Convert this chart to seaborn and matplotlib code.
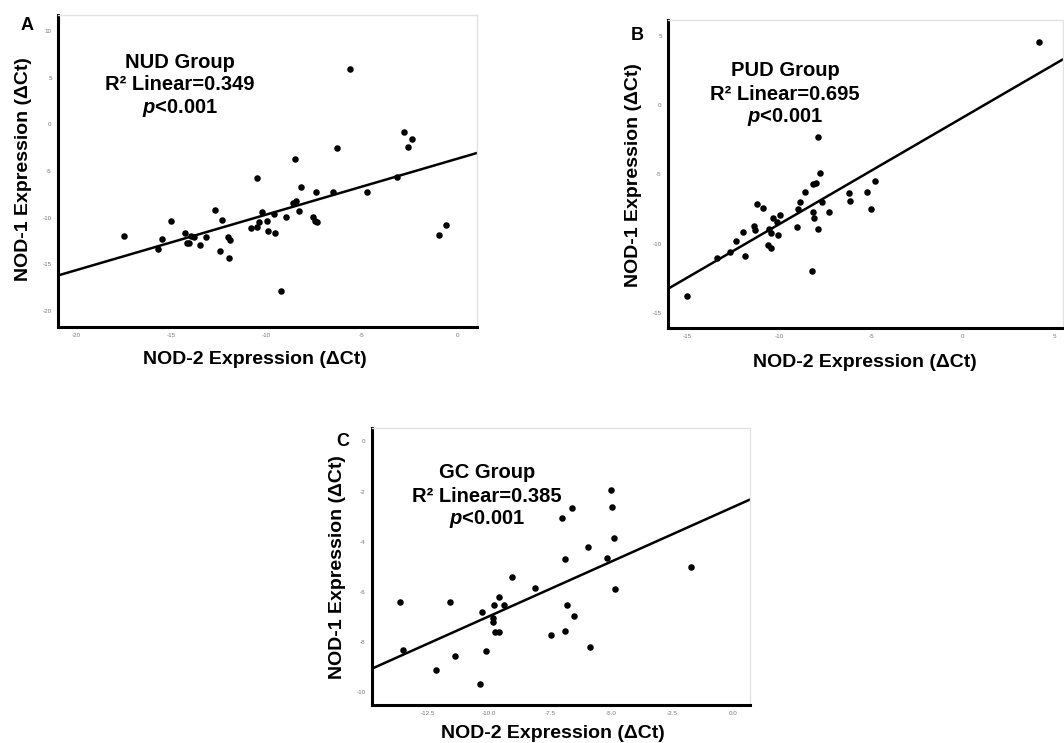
import matplotlib
matplotlib.use("Agg")
import matplotlib.pyplot as plt
import seaborn as sns

# NUD group (panel A)
nud_nod2 = [-17.5, -15.0, -15.5, -15.7, -14.3, -14.1, -14.2, -13.95, -13.8, -13.5,
            -13.2, -12.7, -12.35, -12.45, -12.05, -11.9, -12.0, -10.5, -10.8, -10.5,
            -10.25, -10.4, -10.0, -9.95, -9.6, -9.55, -9.25, -9.0, -8.6, -8.45,
            -8.5, -8.3, -8.2, -7.55, -7.45, -7.35, -7.4, -6.5, -6.3, -5.6,
            -4.75, -3.15, -2.8, -2.6, -2.35, -0.95, -0.6]
nud_nod1 = [-12.0, -10.4, -12.3, -13.3, -11.6, -12.7, -12.7, -12.0, -12.1, -12.9,
            -12.1, -9.2, -10.2, -13.6, -12.1, -12.4, -14.3, -5.8, -11.1, -11.0,
            -9.4, -10.5, -10.3, -11.4, -9.6, -11.6, -17.8, -9.9, -8.4, -8.2,
            -3.75, -9.3, -6.7, -9.9, -10.3, -10.5, -7.2, -7.2, -2.5, 5.9,
            -7.3, -5.6, -0.8, -2.4, -1.6, -11.8, -10.8]

# PUD group (panel B)
pud_nod2 = [-15.0, -13.4, -12.7, -12.35, -11.95, -11.85, -11.4, -11.3, -11.2, -10.9,
            -10.55, -10.45, -10.6, -10.45, -10.35, -10.15, -10.05, -9.95, -9.05, -9.0,
            -8.85, -8.6, -8.15, -8.0, -8.15, -8.1, -7.9, -7.8, -7.9, -7.65,
            -7.3, -6.2, -6.15, -5.25, -5.0, -4.8, -8.2, 4.15]
pud_nod1 = [-13.75, -11.0, -10.6, -9.8, -9.15, -10.9, -8.7, -9.0, -7.15, -7.4,
            -8.9, -9.2, -10.1, -10.3, -8.15, -8.4, -9.35, -7.95, -8.8, -7.5,
            -7.0, -6.3, -5.7, -5.6, -7.7, -8.15, -2.3, -4.9, -8.9, -7.0,
            -7.7, -6.35, -6.9, -6.3, -7.5, -5.45, -12.0, 4.55]

# GC group (panel C)
gc_nod2 = [-13.65, -13.5, -12.15, -11.6, -11.4, -10.35, -10.3, -10.1, -9.8, -9.85,
           -9.85, -9.75, -9.6, -9.6, -9.4, -9.05, -8.1, -7.45, -7.0, -6.9,
           -6.9, -6.8, -6.6, -6.5, -5.95, -5.85, -5.15, -5.0, -4.95, -4.9,
           -4.85, -1.75]
gc_nod1 = [-6.4, -8.3, -9.1, -6.4, -8.55, -9.65, -6.8, -8.35, -6.5, -7.05,
           -7.2, -7.6, -7.6, -6.2, -6.5, -5.4, -5.85, -7.7, -3.05, -4.7,
           -7.55, -6.5, -2.65, -6.95, -4.2, -8.2, -4.65, -1.95, -2.6, -3.85,
           -5.9, -5.0]

W, H = 1064, 743


def add_axes_px(fig, x0, y0, x1, y1):
    return fig.add_axes([x0 / W, 1 - y1 / H, (x1 - x0) / W, (y1 - y0) / H])


def to_axes(box, px, py):
    x0, y0, x1, y1 = box
    return (px - x0) / (x1 - x0), (y1 - py) / (y1 - y0)


def panel(fig, box, x, y, xlim, ylim, xticks, xlabels, yticks, ylabels,
          letter, letter_pos, ylab_pos, xlab_pos, title, r2, note_pos):
    ax = add_axes_px(fig, *box)
    ax.set_xlim(xlim)
    ax.set_ylim(ylim)
    # truncate=False -> line spans the whole x range, like the SPSS fit line
    sns.regplot(x=x, y=y, ax=ax, ci=None, truncate=False,
                scatter_kws=dict(s=22, color='black', alpha=1, linewidths=0),
                line_kws=dict(color='black', lw=1.8))
    ax.set_xlim(xlim)
    ax.set_ylim(ylim)
    ax.set_xticks(xticks)
    ax.set_xticklabels(xlabels)
    ax.set_yticks(yticks)
    ax.set_yticklabels(ylabels)
    ax.tick_params(axis='both', labelsize=4.5, labelcolor='#777777', length=3,
                   width=0.8, color='#444444', pad=1.5, direction='out')
    for side in ['left', 'bottom']:
        ax.spines[side].set_color('black')
        ax.spines[side].set_linewidth(2.2)
    for side in ['top', 'right']:
        ax.spines[side].set_color('#e2e2e2')
        ax.spines[side].set_linewidth(1.0)

    ax.set_xlabel('NOD-2 Expression (ΔCt)', fontsize=14, fontweight='bold', color='black')
    ax.set_ylabel('NOD-1 Expression (ΔCt)', fontsize=14, fontweight='bold', color='black')
    ax.xaxis.label.set_va('center')
    ax.yaxis.label.set_va('center')
    ax.xaxis.set_label_coords(*to_axes(box, *xlab_pos))
    ax.yaxis.set_label_coords(*to_axes(box, *ylab_pos))

    fig.text(letter_pos[0] / W, 1 - letter_pos[1] / H, letter, fontsize=13,
             fontweight='bold', ha='center', va='center', color='black')

    nx, ny = note_pos
    lines = [title, 'R² Linear=' + r2, '$\\mathit{p}$<0.001']
    for i, t in enumerate(lines):
        fig.text(nx / W, 1 - (ny + i * 23) / H, t, fontsize=14.5,
                 fontweight='bold', ha='center', va='center', color='black')
    return ax


def main():
    sns.set_style('white')
    plt.rcParams['font.family'] = ['Liberation Sans', 'DejaVu Sans']
    plt.rcParams['text.color'] = 'black'
    plt.rcParams['axes.labelcolor'] = 'black'
    plt.rcParams['mathtext.fontset'] = 'custom'
    plt.rcParams['mathtext.it'] = 'Liberation Sans:italic:bold'
    plt.rcParams['mathtext.rm'] = 'Liberation Sans:bold'

    fig = plt.figure(figsize=(W / 100, H / 100), dpi=100)

    panel(fig, (58, 15, 477, 327), nud_nod2, nud_nod1,
          (-20.96, 1.05), (-21.7, 11.7),
          [-20, -15, -10, -5, 0], ['-20', '-15', '-10', '-5', '0'],
          [10, 5, 0, -5, -10, -15, -20], ['10', '5', '0', '-5', '-10', '-15', '-20'],
          'A', (27, 25), (24, 169), (255, 360),
          'NUD Group', '0.349', (180, 62))

    panel(fig, (668, 20, 1063, 328), pud_nod2, pud_nod1,
          (-16.06, 5.45), (-16.08, 6.15),
          [-15, -10, -5, 0, 5], ['-15', '-10', '-5', '0', '5'],
          [5, 0, -5, -10, -15], ['5', '0', '-5', '-10', '-15'],
          'B', (637, 35), (633, 175), (865, 362),
          'PUD Group', '0.695', (785, 71))

    panel(fig, (372, 428, 750, 705), gc_nod2, gc_nod1,
          (-14.78, 0.68), (-10.5, 0.53),
          [-12.5, -10.0, -7.5, -5.0, -2.5, 0.0],
          ['-12.5', '-10.0', '-7.5', '-5.0', '-2.5', '0.0'],
          [0, -2, -4, -6, -8, -10], ['0', '-2', '-4', '-6', '-8', '-10'],
          'C', (343, 442), (338, 567), (553, 733),
          'GC Group', '0.385', (487, 473))

    fig.savefig('out.png', dpi=100)
    plt.close(fig)


if __name__ == "__main__":
    main()
